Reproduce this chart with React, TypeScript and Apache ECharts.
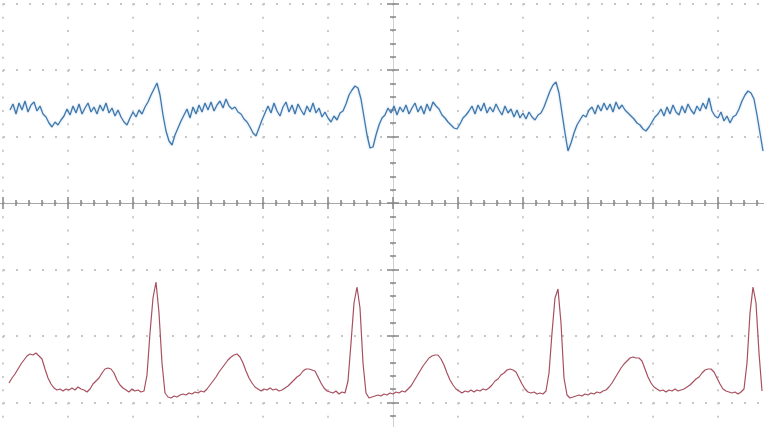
import React, { useEffect, useRef } from "react";
import * as echarts from "echarts";

// Oscilloscope capture: time in samples relative to trigger (65 samples / div),
// amplitude in ADC counts (66.5 counts / div).
const SAMPLES_PER_DIV = 65;
const COUNTS_PER_DIV = 66.5;
const X_MIN = -455;
const X_MAX = 390;
const Y_MIN = -266;
const Y_MAX = 266;
const SAMPLE_STEP = 3;

const channel1Start = -383;
const channel1 = [
  93, 99, 89, 100, 93, 102, 91, 98, 101, 92, 97, 89,
  86, 80, 76, 81, 78, 83,
  87, 94, 88, 97, 90, 99, 89, 95, 100, 91,
  96, 89, 98, 92, 100, 90, 95, 87, 93, 86, 81, 78,
  85, 91, 86, 93, 89, 96,
  101, 108, 114, 120, 108, 88, 72, 62, 58, 68, 75, 82,
  88, 94, 85, 96, 89, 98, 91, 100, 93, 101, 92, 98, 102,
  95, 104, 97, 94,
  96, 91, 89, 84, 81, 76, 70, 67, 75, 83,
  90, 97, 90, 100, 92, 87, 96, 101, 91, 98, 89, 99, 93, 88, 97, 91, 100, 90, 95, 86, 91, 85,
  81, 87, 83, 90, 92,
  99, 108, 113, 117, 115, 104, 86, 68, 55, 56, 68, 78, 85,
  88, 95, 90, 97, 88, 96, 91, 98, 89, 95, 100, 91, 97, 89, 99, 92, 101, 97,
  94, 88, 85, 81, 78, 75,
  74, 79, 85, 88,
  92, 97, 89, 98, 92, 100, 90, 96, 91, 99, 93, 88, 97, 90, 94, 86, 93, 85, 90, 84, 91, 86, 83, 88,
  90, 96, 104, 112, 118, 121, 110, 90, 70, 52, 60, 70, 78, 83, 88,
  86, 93, 96, 89, 98, 92, 100, 93, 99, 91, 101, 94, 98,
  93, 90, 87, 84, 80, 78, 74, 72,
  76, 81, 86, 89,
  94, 87, 96, 89, 98, 91, 88, 97, 90, 99, 93, 89, 97, 92, 100, 94, 105,
  92, 87, 85, 91, 82, 87, 80, 86,
  88, 94, 102, 108, 112, 110, 104, 88, 70, 52,
];

const channel2Start = -384;
const channel2 = [
  -180, -175, -171, -166, -161, -157, -153, -151, -152, -150, -153, -156,
  -166, -175, -181, -185, -187, -186, -188, -186, -187, -185, -187, -184,
  -186, -187, -189, -186, -181, -178, -175, -170, -166, -165, -166, -170,
  -177, -182, -185, -187, -189, -186, -188, -187, -189, -188, -172, -130,
  -95, -79, -110, -160, -190, -194, -195, -193, -194, -192, -191, -192,
  -190, -191, -189, -190, -188, -189, -186, -182, -178, -174, -169, -165,
  -161, -157, -154, -152, -151, -154, -160, -168, -175, -180, -184, -186,
  -188, -186, -187, -185, -187, -186, -188, -187, -185, -183, -180, -177,
  -174, -172, -168, -166, -166, -167, -168, -174, -180, -185, -188, -189,
  -190, -188, -191, -189, -190, -178, -140, -100, -84, -105, -160, -190,
  -195, -194, -193, -192, -193, -191, -192, -190, -191, -189, -190, -188,
  -189, -186, -183, -178, -173, -168, -163, -159, -155, -153, -152, -152,
  -156, -162, -170, -177, -182, -186, -188, -190, -188, -189, -187, -189,
  -187, -188, -186, -187, -185, -182, -178, -176, -172, -170, -167, -166,
  -167, -169, -175, -181, -186, -189, -190, -189, -191, -190, -191, -188,
  -170, -130, -95, -86, -120, -175, -192, -195, -194, -193, -192, -193,
  -191, -192, -190, -191, -189, -190, -188, -187, -184, -180, -175, -170,
  -165, -161, -158, -155, -154, -155, -155, -158, -166, -174, -180, -184,
  -186, -188, -187, -189, -187, -188, -186, -188, -187, -186, -184, -182,
  -179, -176, -174, -170, -167, -166, -166, -169, -175, -181, -186, -188,
  -189, -190, -189, -191, -189, -186, -160, -110, -84, -100, -150, -188,
];

const toPoints = (start: number, values: number[]) =>
  values.map((v, i) => [start + i * SAMPLE_STEP, v]);

export default function App() {
  const ref = useRef<HTMLDivElement>(null);
  useEffect(() => {
    if (!ref.current) return;
    const chart = echarts.init(ref.current, null, { renderer: "svg" });
    const dotGridH = { show: true, lineStyle: { color: "#c6c6c6", width: 1.8, type: [2, 11] as any } };
    const dotGridV = { show: true, lineStyle: { color: "#c6c6c6", width: 1.8, type: [2, 11.3] as any } };
    const axisCommonX = {
      type: "value" as const,
      min: X_MIN,
      max: X_MAX,
      interval: SAMPLES_PER_DIV,
      axisLabel: { show: false },
      axisLine: { show: true, onZero: true, lineStyle: { color: "#a8a8a8", width: 1 } },
      axisTick: { show: true, inside: false, length: 6, lineStyle: { color: "#858585", width: 1.5 } },
      minorTick: { show: true, splitNumber: 5, length: 3, lineStyle: { color: "#858585", width: 1.5 } },
    };
    const axisCommonY = {
      type: "value" as const,
      min: Y_MIN,
      max: Y_MAX,
      interval: COUNTS_PER_DIV,
      axisLabel: { show: false },
      axisLine: { show: true, onZero: true, lineStyle: { color: "#d0d0d0", width: 1 } },
      axisTick: { show: true, inside: false, length: 6, lineStyle: { color: "#858585", width: 1.5 } },
      minorTick: { show: true, splitNumber: 5, length: 3, lineStyle: { color: "#858585", width: 1.5 } },
    };
    chart.setOption({
      animation: false,
      backgroundColor: "#ffffff",
      grid: {
        left: -62,
        right: -19,
        top: -63,
        bottom: -42,
        containLabel: false,
        outerBoundsMode: "none",
      } as any,
      xAxis: [
        { ...axisCommonX, position: "bottom", splitLine: dotGridV },
        { ...axisCommonX, position: "top", splitLine: { show: false } },
      ],
      yAxis: [
        { ...axisCommonY, position: "left", splitLine: dotGridH },
        { ...axisCommonY, position: "right", splitLine: { show: false } },
      ],
      series: [
        {
          name: "CH1",
          type: "line",
          data: toPoints(channel1Start, channel1),
          showSymbol: false,
          symbol: "none",
          lineStyle: {
            color: "#4178ab",
            width: 1.3,
            shadowColor: "rgba(110,165,220,0.45)",
            shadowBlur: 2,
          },
          z: 3,
        },
        {
          name: "CH2",
          type: "line",
          data: toPoints(channel2Start, channel2),
          showSymbol: false,
          symbol: "none",
          lineStyle: { color: "#a8505f", width: 1.2 },
          z: 3,
        },
      ],
    });
    return () => chart.dispose();
  }, []);
  return (
    <div
      ref={ref}
      style={{ position: "absolute", left: 0, top: 0, width: 764, height: 427, background: "#fff" }}
    />
  );
}
